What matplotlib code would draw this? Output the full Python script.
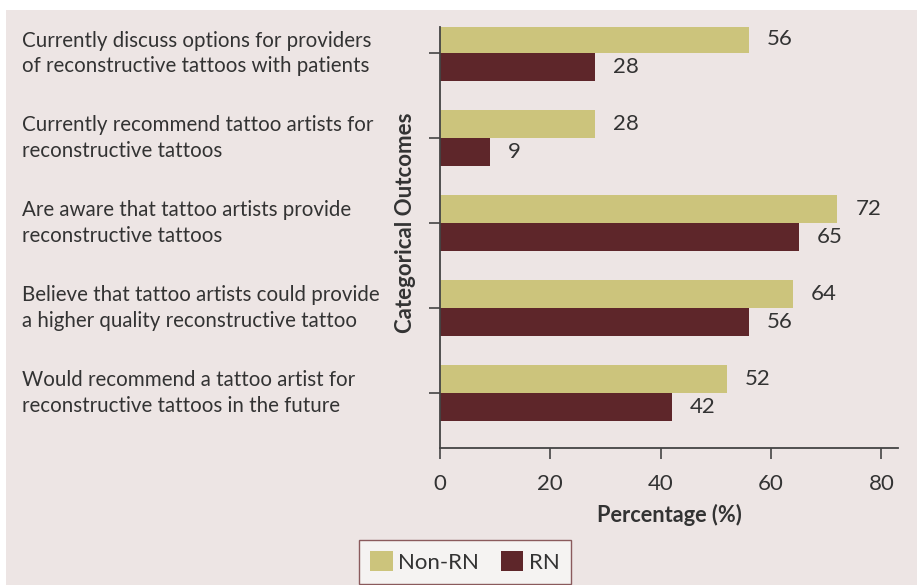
import matplotlib
matplotlib.use("Agg")
from matplotlib import pyplot as plt
from matplotlib.patches import Rectangle
from matplotlib.transforms import blended_transform_factory
import numpy as np

CATEGORIES = [
    "Currently discuss options for providers\nof reconstructive tattoos with patients",
    "Currently recommend tattoo artists for\nreconstructive tattoos",
    "Are aware that tattoo artists provide\nreconstructive tattoos",
    "Believe that tattoo artists could provide\na higher quality reconstructive tattoo",
    "Would recommend a tattoo artist for\nreconstructive tattoos in the future",
]
NON_RN = [56, 28, 72, 64, 52]
RN = [28, 9, 65, 56, 42]
X_TICKS = [0, 20, 40, 60, 80]

C_NON_RN = '#ccc47c'
C_RN = '#5e262a'
C_TEXT = '#333333'
PANEL = '#ede5e4'

plt.rcParams['font.family'] = ['Lato', 'DejaVu Sans']

W, H = 917, 585
fig = plt.figure(figsize=(W / 100, H / 100), dpi=100)
fig.patch.set_facecolor('white')
fig.patches.append(Rectangle((6 / W, 0), 1, 1 - 10 / H, transform=fig.transFigure,
                             facecolor=PANEL, edgecolor='none', zorder=-10))

ax = fig.add_axes([440 / W, 1 - 448 / H, (898 - 440) / W, (448 - 27) / H])
ax.set_facecolor('none')

y = np.arange(len(CATEGORIES))
h = 0.33
b1 = ax.barh(y - h / 2, NON_RN, height=h, color=C_NON_RN, label='Non-RN')
b2 = ax.barh(y + h / 2, RN, height=h, color=C_RN, label='RN')

for bars, vals in ((b1, NON_RN), (b2, RN)):
    for bar, v in zip(bars, vals):
        ax.annotate(str(v), (v, bar.get_y() + bar.get_height() / 2),
                    xytext=(13, 0), textcoords='offset points',
                    va='center', ha='left', fontsize=16, color=C_TEXT)

ax.set_ylim(4.65, -0.31)
ax.set_xlim(0, 83)
ax.set_xticks(X_TICKS)
ax.set_yticks(y)
ax.set_yticklabels([])

# category labels sit at the far left of the panel
trans = blended_transform_factory(fig.transFigure, ax.transData)
for lab, yy in zip(CATEGORIES, y):
    ax.text(22 / W, yy, lab, transform=trans, ha='left', va='center',
            fontsize=14.8, color=C_TEXT, linespacing=1.35)

ax.tick_params(axis='x', labelsize=16, labelcolor=C_TEXT, length=8, width=1.2,
               color='#444444', pad=11)
ax.tick_params(axis='y', length=8, width=1.2, color='#444444')
for s in ('top', 'right'):
    ax.spines[s].set_visible(False)
for s in ('left', 'bottom'):
    ax.spines[s].set_color('#444444')
    ax.spines[s].set_linewidth(1.3)

ax.set_xlabel('Percentage (%)', fontsize=15.7, fontweight='bold', color=C_TEXT, labelpad=7)
fig.text(405 / W, 1 - 223 / H, 'Categorical Outcomes', rotation=90, ha='center', va='center',
         fontsize=16, fontweight='bold', color=C_TEXT)

leg = fig.legend(handles=[b1, b2], loc='upper center', bbox_to_anchor=(465 / W, 1 - 540 / H),
                 ncol=2, frameon=True, fancybox=False, fontsize=16, handlelength=1.0,
                 handleheight=1.0, handletextpad=0.25, columnspacing=1.0,
                 borderpad=0.5, borderaxespad=0, labelcolor=C_TEXT)
leg.get_frame().set_facecolor('#f5f3f2')
leg.get_frame().set_edgecolor('#8a5a5c')
leg.get_frame().set_alpha(1)

fig.savefig('out.png', dpi=100)
